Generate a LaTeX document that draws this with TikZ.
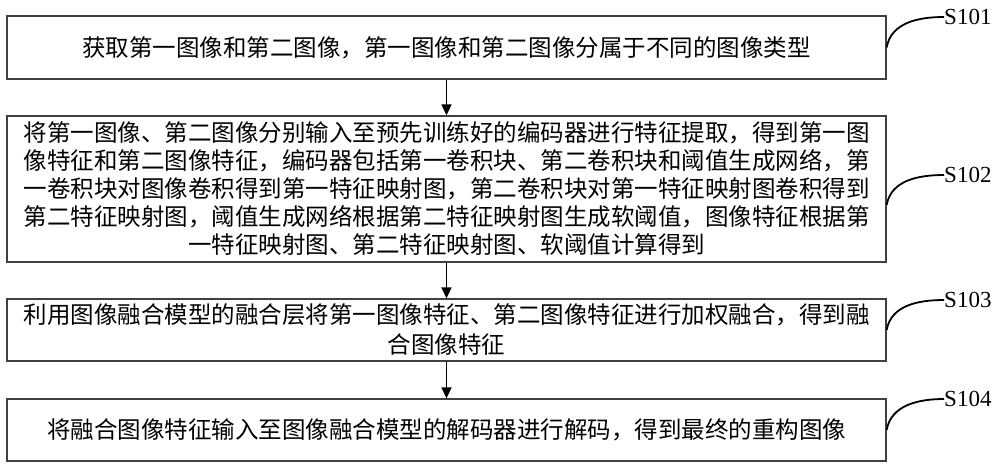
\documentclass[tikz,border=0pt]{standalone}
\usepackage{fontspec}
\setmainfont{Liberation Serif}
\newfontfamily\cjk{Noto Sans CJK SC}
\usetikzlibrary{arrows.meta,calc}
\begin{document}
\begin{tikzpicture}[x=1pt,y=-1pt,
  stepbox/.style={draw=black!75, line width=1.3pt, minimum width=879pt, inner sep=0pt,
    font=\cjk\fontsize{23.5}{28}\selectfont, align=center},
  flow/.style={line width=1.5pt, -{Triangle[length=11pt,width=10pt]}},
  lead/.style={line width=1.8pt},
  lbl/.style={anchor=west, inner sep=0pt, font=\fontsize{23}{23}\selectfont}]
\useasboundingbox (0,0) rectangle (1000,469);
\fill[white] (0,0) rectangle (1000,469);

\node[stepbox, minimum height=63pt] (b1) at (446.5,47.5)
  {获取第一图像和第二图像，第一图像和第二图像分属于不同的图像类型};
\node[stepbox, minimum height=146pt] (b2) at (446.5,189)
  {将第一图像、第二图像分别输入至预先训练好的编码器进行特征提取，得到第一图\\
   像特征和第二图像特征，编码器包括第一卷积块、第二卷积块和阈值生成网络，第\\
   一卷积块对图像卷积得到第一特征映射图，第二卷积块对第一特征映射图卷积得到\\
   第二特征映射图，阈值生成网络根据第二特征映射图生成软阈值，图像特征根据第\\
   一特征映射图、第二特征映射图、软阈值计算得到};
\node[stepbox, minimum height=62pt, font=\cjk\fontsize{23.5}{30}\selectfont] (b3) at (446.5,330)
  {利用图像融合模型的融合层将第一图像特征、第二图像特征进行加权融合，得到融\\
   合图像特征};
\node[stepbox, minimum height=62pt] (b4) at (446.5,430)
  {将融合图像特征输入至图像融合模型的解码器进行解码，得到最终的重构图像};

\draw[flow] (b1.south) -- (b2.north);
\draw[flow] (b2.south) -- (b3.north);
\draw[flow] (b3.south) -- (b4.north);

\node[lbl] (s1) at (944,17) {S101};
\node[lbl] (s2) at (944,175) {S102};
\node[lbl] (s3) at (944,300) {S103};
\node[lbl] (s4) at (944,399) {S104};

\coordinate (c2) at ($(b2.east)+(0,16)$);
\draw[lead] (b1.east) to[out=80,in=180] (s1.west);
\draw[lead] (c2) to[out=80,in=180] (s2.west);
\draw[lead] (b3.east) to[out=80,in=180] (s3.west);
\draw[lead] (b4.east) to[out=80,in=180] (s4.west);
\end{tikzpicture}
\end{document}
